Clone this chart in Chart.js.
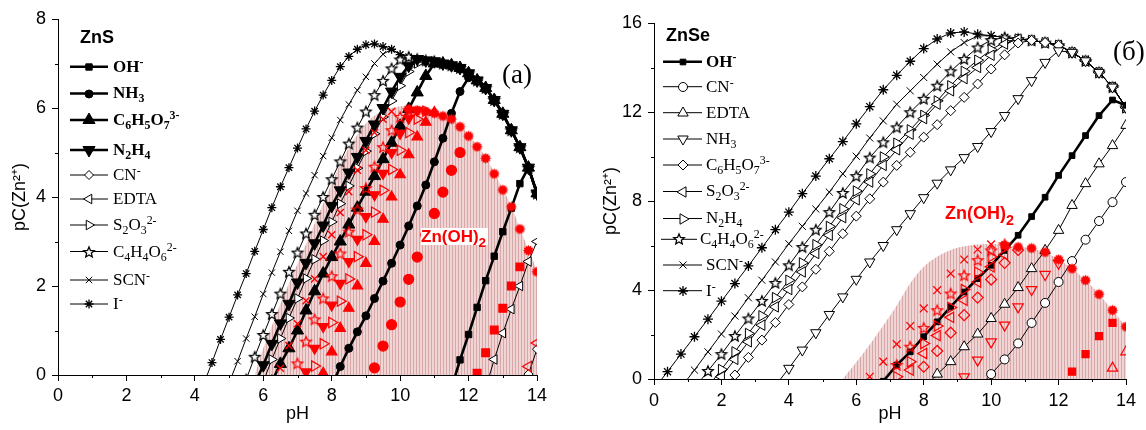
<!DOCTYPE html>
<html>
<head>
<meta charset="utf-8">
<script src="https://cdn.jsdelivr.net/npm/chart.js@4.4.1/dist/chart.umd.min.js"></script>
<style>
  html, body { margin: 0; padding: 0; background: #fff; }
  #wrap { position: relative; width: 1146px; height: 430px; overflow: hidden; }
  canvas { position: absolute; top: 0; }
  .t { position: absolute; white-space: nowrap; line-height: 20px; font-family: 'Liberation Serif', 'Times New Roman', serif; font-size: 17px; color: #000; }
  .t sub, .t sup { font-size: 70%; line-height: 0; position: relative; vertical-align: baseline; }
  .t sub { top: 0.3em; }
  .t sup { top: -0.5em; }
  .ttl { font-family: 'Liberation Sans', Arial, sans-serif; font-weight: bold; font-size: 18px; line-height: 18px; }
  .pan { font-size: 27px; line-height: 27px; }
  .zn { font-family: 'Liberation Sans', Arial, sans-serif; font-weight: bold; color: #ff0000; line-height: 17px; }
  .zn sub { font-size: 80%; top: 0.4em; }
</style>
</head>
<body>
<div id="wrap">
  <canvas id="cS" width="573" height="430" style="left:0"></canvas>
  <canvas id="cSe" width="573" height="430" style="left:573px"></canvas>

  <div class="t ttl" style="left:80px;top:28px">ZnS</div>
  <div class="t" style="left:113px;top:57px"><b>OH<sup>-</sup></b></div>
  <div class="t" style="left:113px;top:83px"><b>NH<sub>3</sub></b></div>
  <div class="t" style="left:113px;top:110px"><b>C<sub>6</sub>H<sub>5</sub>O<sub>7</sub><sup>3-</sup></b></div>
  <div class="t" style="left:113px;top:140px"><b>N<sub>2</sub>H<sub>4</sub></b></div>
  <div class="t" style="left:113px;top:165px">CN<sup>-</sup></div>
  <div class="t" style="left:113px;top:189px">EDTA</div>
  <div class="t" style="left:113px;top:215px">S<sub>2</sub>O<sub>3</sub><sup>2-</sup></div>
  <div class="t" style="left:113px;top:242px">C<sub>4</sub>H<sub>4</sub>O<sub>6</sub><sup>2-</sup></div>
  <div class="t" style="left:113px;top:270px">SCN<sup>-</sup></div>
  <div class="t" style="left:113px;top:294px">I<sup>-</sup></div>
  <div class="t pan" style="left:502px;top:61px">(a)</div>
  <div class="t zn" style="left:421px;top:228px;font-size:17px;background:#fff;padding-right:2px">Zn(OH)<sub>2</sub></div>

  <div class="t ttl" style="left:666px;top:26px">ZnSe</div>
  <div class="t" style="left:706px;top:52px"><b>OH<sup>-</sup></b></div>
  <div class="t" style="left:706px;top:77px">CN<sup>-</sup></div>
  <div class="t" style="left:706px;top:103px">EDTA</div>
  <div class="t" style="left:706px;top:129px">NH<sub>3</sub></div>
  <div class="t" style="left:706px;top:155px">C<sub>6</sub>H<sub>5</sub>O<sub>7</sub><sup>3-</sup></div>
  <div class="t" style="left:706px;top:181px">S<sub>2</sub>O<sub>3</sub><sup>2-</sup></div>
  <div class="t" style="left:706px;top:208px">N<sub>2</sub>H<sub>4</sub></div>
  <div class="t" style="left:700px;top:229px">C<sub>4</sub>H<sub>4</sub>O<sub>6</sub><sup>2-</sup></div>
  <div class="t" style="left:706px;top:255px">SCN<sup>-</sup></div>
  <div class="t" style="left:706px;top:281px">I<sup>-</sup></div>
  <div class="t pan" style="left:1113px;top:38px">(б)</div>
  <div class="t zn" style="left:945px;top:205px;font-size:18px">Zn(OH)<sub>2</sub></div>
</div>
<script>
// pC values are sampled on a regular pH grid: first pH of each series, then one value per step
const stepS = 0.25;
const stepSe = 0.4;

// ---- ZnS (a) ----
const fromS = { env: 9.25, I: 4.25, SCN: 5.0, C4H4O6: 5.5, N2H4: 5.75, S2O3: 6.0, C6H5O7: 6.25, NH3: 8.0, OH: 11.5, EDTA: 12.5, CN: 13.5,
  rI: 10.25, rSCN: 6.5, rC4H4O6: 7.0, rN2H4: 7.25, rS2O3: 7.5, rC6H5O7: 7.75, rNH3: 9.25, rOH: 12.25, rEDTA: 13.75, ZnOH2: 5.75 };
const znS_env = [7.44, 7.38, 7.32, 7.2, 7.15, 7.1, 7.07, 7.05, 7.0, 6.96, 6.9, 6.78, 6.62, 6.45, 6.18, 5.87, 5.5, 5.12, 4.66, 4.08];
const znS_I = [-0.22, 0.28, 0.8, 1.3, 1.8, 2.28, 2.78, 3.27, 3.76, 4.23, 4.66, 5.1, 5.53, 5.93, 6.29, 6.62, 6.93, 7.16, 7.32, 7.42];
const znS_SCN = [-0.18, 0.31, 0.82, 1.31, 1.82, 2.3, 2.77, 3.24, 3.69, 4.08, 4.49, 4.92, 5.33, 5.73, 6.08, 6.4, 6.7, 7.0, 7.21];
const znS_C4H4O6 = [-0.1, 0.41, 0.9, 1.37, 1.83, 2.32, 2.75, 3.18, 3.6, 4.0, 4.4, 4.8, 5.2, 5.56, 5.92, 6.29, 6.61, 6.89, 7.09];
const znS_N2H4 = [-0.2, 0.22, 0.7, 1.16, 1.6, 2.08, 2.52, 2.96, 3.36, 3.8, 4.15, 4.55, 4.9, 5.26, 5.63, 6.0, 6.37, 6.7, 6.95];
const znS_S2O3 = [-0.15, 0.35, 0.82, 1.28, 1.72, 2.17, 2.6, 3.02, 3.44, 3.85, 4.25, 4.65, 5.03, 5.42, 5.8, 6.16, 6.5, 6.82, 7.0];
const znS_C6H5O7 = [-0.15, 0.25, 0.6, 1.0, 1.45, 1.88, 2.28, 2.65, 3.0, 3.38, 3.76, 4.12, 4.47, 4.85, 5.22, 5.6, 5.98, 6.35, 6.72, 7.0];
const znS_NH3 = [-0.25, 0.19, 0.6, 0.97, 1.33, 1.72, 2.11, 2.51, 2.92, 3.35, 3.8, 4.27, 4.79, 5.32, 5.88, 6.37, 6.68];
const znS_OH = [-0.3, 0.34, 0.91, 1.52, 2.12, 2.67, 3.22, 3.75, 4.3];
const znS_EDTA = [-0.3, 0.35, 0.94, 1.48, 2.0, 2.55, 3.0];
const znS_CN = [-0.6, 0.02, 0.58];
// in presence of Zn(OH)2
const znS_rI = [5.97, 5.95, 5.92, 5.88, 5.82, 5.75, 5.58, 5.37, 5.13, 4.87, 4.52, 4.16, 3.78, 3.28, 2.8, 2.32];
const znS_rSCN = [0.15, 0.66, 1.15, 1.67, 2.16, 2.66, 3.15, 3.65, 4.12, 4.6, 5.05, 5.45, 5.75, 5.92];
const znS_rC4H4O6 = [0.26, 0.75, 1.25, 1.72, 2.22, 2.73, 3.22, 3.72, 4.2, 4.68, 5.12, 5.5, 5.8, 5.95];
const znS_rN2H4 = [0.07, 0.6, 1.09, 1.57, 2.06, 2.55, 3.05, 3.56, 4.05, 4.53, 5.0, 5.43, 5.77, 5.95];
const znS_rS2O3 = [0.2, 0.7, 1.18, 1.66, 2.16, 2.66, 3.15, 3.66, 4.15, 4.62, 5.05, 5.45, 5.75, 5.93];
const znS_rC6H5O7 = [0.04, 0.52, 1.05, 1.5, 2.0, 2.51, 3.0, 3.5, 4.0, 4.5, 4.95, 5.35, 5.68, 5.9];
const znS_rNH3 = [0.16, 0.65, 1.13, 1.64, 2.15, 2.65, 3.15, 3.63, 4.11, 4.6, 5.0];
const znS_rOH = [0.04, 0.5, 1.01, 1.5, 2.0, 2.43];
const znS_rEDTA = [0.19, 0.72];
const znS_ZnOH2 = [0, 0.6, 1.1, 1.6, 2.05, 2.5, 2.95, 3.4, 3.85, 4.3, 4.75, 5.1, 5.4, 5.65, 5.83, 5.94, 6.0, 6.04, 6.05, 6.02,
  5.97, 5.92, 5.85, 5.76, 5.6, 5.4, 5.15, 4.9, 4.55, 4.18, 3.8, 3.3, 2.82, 2.35];

// ---- ZnSe (б) ----
const fromSe = { env: 9.6, I: 0.0, SCN: 0.8, C4H4O6: 1.2, N2H4: 1.6, S2O3: 1.6, C6H5O7: 2.0, NH3: 3.6, OH: 6.8, EDTA: 8.0, CN: 9.6,
  rI: 10.4, rSCN: 6.4, rC4H4O6: 7.2, rN2H4: 7.2, rS2O3: 7.6, rC6H5O7: 8.0, rNH3: 9.2, rOH: 12.4, rEDTA: 13.6, ZnOH2: 5.6 };
const znSe_env = [15.5, 15.43, 15.35, 15.28, 15.22, 15.12, 15.0, 14.68, 14.3, 13.78, 13.12, 12.2];
const znSe_I = [-0.45, 0.33, 1.12, 1.9, 2.69, 3.5, 4.29, 5.08, 5.9, 6.71, 7.5, 8.33, 9.12, 9.9, 10.67, 11.47, 12.24, 13.0, 13.65, 14.28, 14.85, 15.28, 15.55, 15.6];
const znSe_SCN = [-0.38, 0.4, 1.22, 2.02, 2.83, 3.65, 4.44, 5.26, 6.08, 6.86, 7.64, 8.4, 9.22, 10.01, 10.83, 11.6, 12.35, 12.95, 13.55, 14.15, 14.7, 15.12, 15.42];
const znSe_C4H4O6 = [-0.42, 0.36, 1.12, 1.93, 2.72, 3.51, 4.32, 5.11, 5.93, 6.71, 7.5, 8.36, 9.12, 9.95, 10.64, 11.31, 11.99, 12.59, 13.18, 13.83, 14.38, 14.9, 15.23];
const znSe_N2H4 = [-0.35, 0.43, 1.22, 2.05, 2.84, 3.66, 4.44, 5.22, 6.04, 6.86, 7.65, 8.45, 9.22, 9.98, 10.6, 11.2, 11.85, 12.5, 13.18, 13.83, 14.33, 14.8, 15.15];
const znSe_S2O3 = [-0.65, 0.1, 0.88, 1.67, 2.42, 3.24, 4.02, 4.81, 5.64, 6.46, 7.25, 8.05, 8.85, 9.6, 10.3, 11.0, 11.7, 12.35, 12.95, 13.5, 14.0, 14.55, 15.05];
const znSe_C6H5O7 = [-0.55, 0.18, 0.97, 1.75, 2.54, 3.35, 4.14, 4.93, 5.74, 6.53, 7.32, 8.1, 8.85, 9.6, 10.19, 10.87, 11.43, 12.06, 12.66, 13.26, 13.93, 14.57, 15.1];
const znSe_NH3 = [-0.3, 0.48, 1.3, 2.08, 2.9, 3.69, 4.48, 5.26, 6.0, 6.71, 7.43, 8.15, 8.8, 9.4, 9.95, 10.45, 11.12, 11.84, 12.6, 13.41, 14.23, 14.75];
const znSe_OH = [-0.1, 0.63, 1.22, 1.9, 2.57, 3.24, 3.91, 4.51, 5.11, 5.78, 6.46, 7.3, 8.17, 9.15, 10.04, 10.94, 11.84, 12.54, 12.3];
const znSe_EDTA = [-0.45, 0.22, 0.78, 1.45, 2.02, 2.72, 3.36, 4.11, 4.96, 5.78, 6.68, 7.8, 8.78, 9.67, 10.49, 11.4];
const znSe_CN = [-0.45, 0.22, 0.88, 1.6, 2.52, 3.42, 4.36, 5.3, 6.26, 7.1, 7.95, 8.85];
const znSe_rI = [6.01, 5.93, 5.88, 5.7, 5.37, 4.96, 4.44, 3.81, 3.09, 2.35];
const znSe_rSCN = [0.1, 0.78, 1.57, 2.38, 3.17, 3.99, 4.74, 5.37, 5.82, 6.05];
const znSe_rC4H4O6 = [0.63, 1.45, 2.3, 3.09, 3.84, 4.66, 5.34, 5.78, 6.05];
const znSe_rN2H4 = [0.1, 0.78, 1.6, 2.38, 3.21, 4.02, 4.8, 5.49, 5.92];
const znSe_rS2O3 = [0.4, 1.15, 1.95, 2.77, 3.54, 4.36, 5.04, 5.6];
const znSe_rC6H5O7 = [0.55, 1.26, 2.08, 2.87, 3.66, 4.47, 5.22, 5.8];
const znSe_rNH3 = [0.1, 0.85, 1.67, 2.42, 3.24, 4.02, 4.7, 5.2];
const znSe_rOH = [0.33, 1.12, 1.93, 2.52];
const znSe_rEDTA = [0.49, 1.22];
const znSe_ZnOH2 = [0, 0.75, 1.55, 2.4, 3.3, 4.3, 5.05, 5.5, 5.8, 5.97, 6.05, 6.07, 6.05, 5.95, 5.88, 5.7, 5.37, 4.96, 4.44, 3.81, 3.09, 2.35];

// ---------- helpers ----------
function series(from, step, vals) {
  return vals.map((v, i) => ({ x: Math.round((from + i * step) * 100) / 100, y: v }));
}
function withEnv(own, env) {
  const last = own[own.length - 1].x;
  return own.concat(env.filter(p => p.x > last + 1e-6));
}
function starImg(r, stroke, fill, lw) {
  const s = Math.ceil(2 * r + 2 * lw + 2);
  const c = document.createElement('canvas');
  c.width = c.height = s;
  const g = c.getContext('2d');
  g.translate(s / 2, s / 2 + 0.5);
  g.beginPath();
  for (let i = 0; i < 10; i++) {
    const a = -Math.PI / 2 + i * Math.PI / 5, rr = i % 2 ? r * 0.45 : r;
    g.lineTo(rr * Math.cos(a), rr * Math.sin(a));
  }
  g.closePath();
  g.fillStyle = fill; g.fill();
  g.lineJoin = 'miter';
  g.strokeStyle = stroke; g.lineWidth = lw; g.stroke();
  return c;
}
function sunImg(r, color) {
  const s = Math.ceil(2 * r + 2);
  const c = document.createElement('canvas');
  c.width = c.height = s;
  const g = c.getContext('2d');
  g.translate(s / 2, s / 2);
  g.beginPath();
  for (let i = 0; i < 24; i++) {
    const a = i * Math.PI / 12, rr = i % 2 ? r * 0.72 : r;
    g.lineTo(rr * Math.cos(a), rr * Math.sin(a));
  }
  g.closePath();
  g.fillStyle = color; g.fill();
  return c;
}
function stripes(canvas) {
  const c = document.createElement('canvas');
  c.width = 3; c.height = 8;
  const g = c.getContext('2d');
  g.fillStyle = '#f1d5d5'; g.fillRect(0, 0, 3, 8);
  g.fillStyle = '#d7a8aa'; g.fillRect(2, 0, 1, 8);
  return canvas.getContext('2d').createPattern(c, 'repeat');
}

const RED = '#ff0000';
function line(label, data, o) {
  return Object.assign({
    label, data, borderColor: '#000', borderWidth: 1, borderJoinStyle: 'round',
    pointStyle: 'circle', pointRadius: 4, pointRotation: 0,
    pointBackgroundColor: '#fff', pointBorderColor: '#000', pointBorderWidth: 1,
    tension: 0, clip: 0, order: 20
  }, o);
}
function thick(label, data, o) {
  return line(label, data, Object.assign({ borderWidth: 2.6, pointBackgroundColor: '#000', order: 10 }, o));
}
function redMarks(label, data, o) {
  return Object.assign({
    label, data, showLine: false, borderColor: RED,
    pointStyle: 'circle', pointRadius: 5, pointRotation: 0,
    pointBackgroundColor: 'rgba(0,0,0,0)', pointBorderColor: RED, pointBorderWidth: 1.2,
    clip: 0, order: 5
  }, o);
}
function zone(data, pattern) {
  return { label: 'Zn(OH)2', data, fill: 'origin', backgroundColor: pattern, borderColor: 'rgba(0,0,0,0)',
    borderWidth: 0, pointRadius: 0, tension: 0.35, clip: 0, order: 100 };
}

const minorTicks = {
  id: 'minorTicks',
  afterDraw(chart, args, o) {
    const { ctx, chartArea: a } = chart, x = chart.scales.x, y = chart.scales.y;
    ctx.save();
    ctx.strokeStyle = '#000'; ctx.lineWidth = 1;
    ctx.beginPath();
    for (let v = x.min + o.x; v < x.max; v += 2 * o.x) {
      const p = Math.round(x.getPixelForValue(v)) + 0.5;
      ctx.moveTo(p, a.bottom); ctx.lineTo(p, a.bottom + o.len);
    }
    for (let v = y.min + o.y; v < y.max; v += 2 * o.y) {
      const p = Math.round(y.getPixelForValue(v)) + 0.5;
      ctx.moveTo(a.left, p); ctx.lineTo(a.left - o.len, p);
    }
    ctx.stroke();
    ctx.restore();
  }
};

const sampleLegend = {
  id: 'sampleLegend',
  afterDraw(chart, args, o) {
    const ctx = chart.ctx;
    o.rows.forEach(row => {
      const ds = chart.data.datasets[row.ds];
      const x1 = row.x1 || o.x1, x2 = row.x2 || o.x2;
      ctx.save();
      ctx.strokeStyle = '#000'; ctx.lineWidth = ds.borderWidth;
      ctx.beginPath(); ctx.moveTo(x1, row.y); ctx.lineTo(x2, row.y); ctx.stroke();
      ctx.fillStyle = ds.pointBackgroundColor;
      ctx.strokeStyle = ds.pointBorderColor;
      ctx.lineWidth = ds.pointBorderWidth;
      Chart.helpers.drawPoint(ctx, { pointStyle: ds.pointStyle, rotation: ds.pointRotation,
        radius: ds.pointRadius, borderWidth: ds.pointBorderWidth }, Math.round((x1 + x2) / 2), Math.round(row.y));
      ctx.restore();
    });
  }
};

Chart.defaults.font.family = "'Liberation Sans', Arial, sans-serif";
Chart.defaults.font.size = 18;
Chart.defaults.color = '#000';

function makeOptions(cfg) {
  const axisGrid = { display: true, drawOnChartArea: false, drawTicks: true, tickLength: 6, color: '#000' };
  const axisBorder = { display: true, color: '#000', width: 1 };
  return {
    responsive: false, animation: false, events: [],
    layout: { padding: { left: 0, top: cfg.padTop, right: cfg.padRight, bottom: 0 } },
    plugins: {
      legend: { display: false }, tooltip: { enabled: false },
      minorTicks: { x: 1, y: cfg.yMinor, len: 3 },
      sampleLegend: cfg.legend
    },
    scales: {
      x: {
        type: 'linear', min: 0, max: 14,
        ticks: { stepSize: 2, padding: cfg.xPad },
        grid: axisGrid, border: axisBorder,
        title: { display: true, text: 'pH', padding: { top: 0, bottom: 5 } },
        afterFit: s => { s.height = cfg.xHeight; }
      },
      y: {
        type: 'linear', min: 0, max: cfg.yMax,
        ticks: { stepSize: cfg.yStep, padding: 6 },
        grid: axisGrid, border: axisBorder,
        title: { display: true, text: 'pC(Zn²⁺)', padding: { top: cfg.yTitlePad, bottom: 0 } },
        afterFit: s => { s.width = cfg.yWidth; }
      }
    }
  };
}

// ---------- ZnS chart ----------
const cS = document.getElementById('cS');
const envS = series(fromS.env, stepS, znS_env);
const sS = (k, v) => series(fromS[k], stepS, v);
const dsS = [
  thick('OH-', withEnv(sS('OH', znS_OH), envS), { pointStyle: 'rect', pointRadius: 4.5 }),
  thick('NH3', withEnv(sS('NH3', znS_NH3), envS), { pointStyle: 'circle', pointRadius: 4 }),
  thick('C6H5O7 3-', withEnv(sS('C6H5O7', znS_C6H5O7), envS), { pointStyle: 'triangle', pointRadius: 7 }),
  thick('N2H4', withEnv(sS('N2H4', znS_N2H4), envS), { pointStyle: 'triangle', pointRadius: 7, pointRotation: 180 }),
  line('CN-', sS('CN', znS_CN), { pointStyle: 'rectRot', pointRadius: 4.5 }),
  line('EDTA', sS('EDTA', znS_EDTA), { pointStyle: 'triangle', pointRadius: 5.5, pointRotation: 270 }),
  line('S2O3 2-', withEnv(sS('S2O3', znS_S2O3), envS), { pointStyle: 'triangle', pointRadius: 5.5, pointRotation: 90 }),
  line('C4H4O6 2-', withEnv(sS('C4H4O6', znS_C4H4O6), envS), { pointStyle: starImg(5.5, '#000', '#fff', 1.3) }),
  line('SCN-', withEnv(sS('SCN', znS_SCN), envS), { pointStyle: 'crossRot', pointRadius: 4.5 }),
  line('I-', withEnv(sS('I', znS_I), envS), { pointStyle: 'star', pointRadius: 4.5, pointBorderWidth: 1.3 }),
  redMarks('I- Zn(OH)2', sS('rI', znS_rI), { pointStyle: sunImg(5.5, RED) }),
  redMarks('SCN- Zn(OH)2', sS('rSCN', znS_rSCN), { pointStyle: 'crossRot', pointRadius: 5, pointBorderWidth: 1.4 }),
  redMarks('C4H4O6 Zn(OH)2', sS('rC4H4O6', znS_rC4H4O6), { pointStyle: starImg(5.5, RED, 'rgba(0,0,0,0)', 1.3) }),
  redMarks('N2H4 Zn(OH)2', sS('rN2H4', znS_rN2H4), { pointStyle: 'triangle', pointRadius: 6, pointRotation: 180, pointBackgroundColor: RED }),
  redMarks('S2O3 Zn(OH)2', sS('rS2O3', znS_rS2O3), { pointStyle: 'triangle', pointRadius: 6, pointRotation: 90 }),
  redMarks('C6H5O7 Zn(OH)2', sS('rC6H5O7', znS_rC6H5O7), { pointStyle: 'triangle', pointRadius: 6, pointBackgroundColor: RED }),
  redMarks('NH3 Zn(OH)2', sS('rNH3', znS_rNH3), { pointStyle: 'circle', pointRadius: 5, pointBackgroundColor: RED }),
  redMarks('OH- Zn(OH)2', sS('rOH', znS_rOH), { pointStyle: 'rect', pointRadius: 5.5, pointBackgroundColor: RED }),
  redMarks('EDTA Zn(OH)2', sS('rEDTA', znS_rEDTA), { pointStyle: 'triangle', pointRadius: 6, pointRotation: 270 }),
  zone(sS('ZnOH2', znS_ZnOH2), stripes(cS))
];
new Chart(cS, {
  type: 'line',
  data: { datasets: dsS },
  options: makeOptions({
    padTop: 19, padRight: 36, yWidth: 58, xHeight: 55, yMax: 8, yStep: 2, yMinor: 1, xPad: 4, yTitlePad: 9,
    legend: { x1: 70, x2: 108, rows: [
      { ds: 0, y: 66.7 }, { ds: 1, y: 93.5 }, { ds: 2, y: 120 }, { ds: 3, y: 150 }, { ds: 4, y: 175 },
      { ds: 5, y: 199 }, { ds: 6, y: 225 }, { ds: 7, y: 251.5 }, { ds: 8, y: 280 }, { ds: 9, y: 304 }
    ] }
  }),
  plugins: [minorTicks, sampleLegend]
});

// ---------- ZnSe chart ----------
const cSe = document.getElementById('cSe');
const envSe = series(fromSe.env, stepSe, znSe_env);
const sSe = (k, v) => series(fromSe[k], stepSe, v);
const dsSe = [
  thick('OH-', sSe('OH', znSe_OH), { pointStyle: 'rect', pointRadius: 4 }),
  line('CN-', sSe('CN', znSe_CN), { pointStyle: 'circle', pointRadius: 4.5 }),
  line('EDTA', sSe('EDTA', znSe_EDTA), { pointStyle: 'triangle', pointRadius: 6 }),
  line('NH3', withEnv(sSe('NH3', znSe_NH3), envSe), { pointStyle: 'triangle', pointRadius: 6, pointRotation: 180 }),
  line('C6H5O7 3-', withEnv(sSe('C6H5O7', znSe_C6H5O7), envSe), { pointStyle: 'rectRot', pointRadius: 5 }),
  line('S2O3 2-', withEnv(sSe('S2O3', znSe_S2O3), envSe), { pointStyle: 'triangle', pointRadius: 6, pointRotation: 270 }),
  line('N2H4', withEnv(sSe('N2H4', znSe_N2H4), envSe), { pointStyle: 'triangle', pointRadius: 6, pointRotation: 90 }),
  line('C4H4O6 2-', withEnv(sSe('C4H4O6', znSe_C4H4O6), envSe), { pointStyle: starImg(5.5, '#000', '#fff', 1.3) }),
  line('SCN-', withEnv(sSe('SCN', znSe_SCN), envSe), { pointStyle: 'crossRot', pointRadius: 5 }),
  line('I-', withEnv(sSe('I', znSe_I), envSe), { pointStyle: 'star', pointRadius: 5, pointBorderWidth: 1.3 }),
  redMarks('I- Zn(OH)2', sSe('rI', znSe_rI), { pointStyle: sunImg(5.5, RED) }),
  redMarks('SCN- Zn(OH)2', sSe('rSCN', znSe_rSCN), { pointStyle: 'crossRot', pointRadius: 5.5, pointBorderWidth: 1.3 }),
  redMarks('C4H4O6 Zn(OH)2', sSe('rC4H4O6', znSe_rC4H4O6), { pointStyle: starImg(5.5, RED, 'rgba(0,0,0,0)', 1.3) }),
  redMarks('N2H4 Zn(OH)2', sSe('rN2H4', znSe_rN2H4), { pointStyle: 'triangle', pointRadius: 6, pointRotation: 90 }),
  redMarks('S2O3 Zn(OH)2', sSe('rS2O3', znSe_rS2O3), { pointStyle: 'triangle', pointRadius: 6, pointRotation: 270 }),
  redMarks('C6H5O7 Zn(OH)2', sSe('rC6H5O7', znSe_rC6H5O7), { pointStyle: 'rectRot', pointRadius: 5.5 }),
  redMarks('NH3 Zn(OH)2', sSe('rNH3', znSe_rNH3), { pointStyle: 'triangle', pointRadius: 6, pointRotation: 180 }),
  redMarks('OH- Zn(OH)2', sSe('rOH', znSe_rOH), { pointStyle: 'rect', pointRadius: 5, pointBackgroundColor: RED }),
  redMarks('EDTA Zn(OH)2', sSe('rEDTA', znSe_rEDTA), { pointStyle: 'triangle', pointRadius: 6 }),
  zone(sSe('ZnOH2', znSe_ZnOH2), stripes(cSe))
];
new Chart(cSe, {
  type: 'line',
  data: { datasets: dsSe },
  options: makeOptions({
    padTop: 23, padRight: 20, yWidth: 81, xHeight: 51, yMax: 16, yStep: 4, yMinor: 2, xPad: 5, yTitlePad: 27,
    legend: { x1: 90, x2: 129, rows: [
      { ds: 0, y: 61.7 }, { ds: 1, y: 86.7 }, { ds: 2, y: 112.7 }, { ds: 3, y: 139 }, { ds: 4, y: 165 },
      { ds: 5, y: 191.5 }, { ds: 6, y: 218.5 }, { ds: 7, y: 239.3, x1: 88, x2: 124 }, { ds: 8, y: 265 }, { ds: 9, y: 290.7 }
    ] }
  }),
  plugins: [minorTicks, sampleLegend]
});
</script>
</body>
</html>
